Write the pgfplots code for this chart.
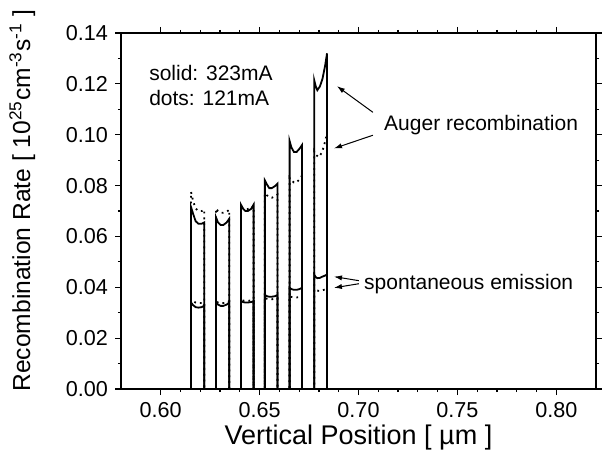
\documentclass[border=0pt]{standalone}
\usepackage{fontspec}
\setmainfont{Liberation Sans}
\usepackage{pgfplots}
\pgfplotsset{compat=1.18}
\usetikzlibrary{arrows.meta,calc}

\begin{document}
\begin{tikzpicture}
\begin{axis}[
  scale only axis, width=237.5pt, height=178pt,
  xmin=0.58, xmax=0.82, ymin=0, ymax=0.14,
  xtick={0.60,0.65,...,0.801}, minor x tick num=4,
  ytick={0,0.02,...,0.141}, minor y tick num=1,
  tick align=outside,
  major tick length=3pt, minor tick length=1.6pt,
  every tick/.style={black, line width=0.6pt},
  axis line style={line width=0.7pt},
  /pgf/number format/.cd, fixed, fixed zerofill, precision=2, assume math mode=true,
  /pgfplots/.cd,
  tick label style={font=\fontsize{10.8}{12}\selectfont},
  xlabel={Vertical Position [ µm ]},
  ylabel={Recombination Rate [ 10\textsuperscript{25}cm\textsuperscript{-3}s\textsuperscript{-1} ]},
  xlabel style={font=\fontsize{13.5}{15}\selectfont, at={(axis description cs:0.5,-0.135)}, anchor=center},
  ylabel style={font=\fontsize{12.3}{14}\selectfont, at={(axis description cs:-0.208,0.53)}, anchor=center},
  clip=false,
]
% Auger, 323 mA (solid)
\addplot[black, line width=0.9pt] coordinates {
 (0.6154,0) (0.6154,0.0715) (0.6164,0.0690) (0.6177,0.0660) (0.6191,0.0650) (0.6208,0.0650) (0.6221,0.0655) (0.6221,0)
 (0.6280,0) (0.6280,0.0675) (0.6290,0.0655) (0.6303,0.0645) (0.6317,0.0645) (0.6334,0.0655) (0.6347,0.0670) (0.6347,0)
 (0.6406,0) (0.6406,0.0725) (0.6416,0.0710) (0.6428,0.0700) (0.6441,0.0700) (0.6457,0.0708) (0.6470,0.0725) (0.6470,0)
 (0.6527,0) (0.6527,0.0820) (0.6537,0.0805) (0.6549,0.0790) (0.6562,0.0790) (0.6578,0.0798) (0.6591,0.0808) (0.6591,0)
 (0.6652,0) (0.6652,0.0975) (0.6661,0.0950) (0.6674,0.0932) (0.6687,0.0932) (0.6702,0.0945) (0.6715,0.0960) (0.6715,0)
 (0.6776,0) (0.6776,0.1215) (0.6784,0.1190) (0.6792,0.1175) (0.6805,0.1190) (0.6818,0.1220) (0.6831,0.1270) (0.6841,0.1320) (0.6841,0)
};
% spontaneous, 323 mA (solid)
\addplot[black, line width=0.9pt] coordinates {
 (0.6154,0) (0.6154,0.0340) (0.6164,0.0330) (0.6177,0.0322) (0.6191,0.0320) (0.6208,0.0322) (0.6221,0.0328) (0.6221,0)
 (0.6280,0) (0.6280,0.0340) (0.6290,0.0332) (0.6303,0.0327) (0.6317,0.0327) (0.6334,0.0332) (0.6347,0.0340) (0.6347,0)
 (0.6406,0) (0.6406,0.0345) (0.6416,0.0342) (0.6428,0.0340) (0.6441,0.0340) (0.6457,0.0342) (0.6470,0.0345) (0.6470,0)
 (0.6527,0) (0.6527,0.0370) (0.6537,0.0365) (0.6549,0.0363) (0.6562,0.0363) (0.6578,0.0365) (0.6591,0.0370) (0.6591,0)
 (0.6652,0) (0.6652,0.0398) (0.6661,0.0393) (0.6674,0.0390) (0.6687,0.0390) (0.6702,0.0393) (0.6715,0.0398) (0.6715,0)
 (0.6776,0) (0.6776,0.0450) (0.6784,0.0440) (0.6792,0.0436) (0.6805,0.0437) (0.6818,0.0442) (0.6831,0.0446) (0.6841,0.0450) (0.6841,0)
};
% Auger, 121 mA (dots)
\addplot[black, line width=0.9pt, dotted] coordinates {
 (0.6154,0) (0.6154,0.0775) (0.6164,0.0740) (0.6177,0.0710) (0.6191,0.0700) (0.6208,0.0700) (0.6221,0.0705) (0.6221,0)
 (0.6280,0) (0.6280,0.0710) (0.6290,0.0700) (0.6303,0.0693) (0.6317,0.0693) (0.6334,0.0697) (0.6347,0.0705) (0.6347,0)
 (0.6406,0) (0.6406,0.0718) (0.6416,0.0712) (0.6428,0.0708) (0.6441,0.0708) (0.6457,0.0712) (0.6470,0.0720) (0.6470,0)
 (0.6527,0) (0.6527,0.0770) (0.6537,0.0762) (0.6549,0.0755) (0.6562,0.0752) (0.6578,0.0758) (0.6591,0.0765) (0.6591,0)
 (0.6652,0) (0.6652,0.0830) (0.6661,0.0820) (0.6674,0.0812) (0.6687,0.0812) (0.6702,0.0825) (0.6715,0.0840) (0.6715,0)
 (0.6776,0) (0.6776,0.0935) (0.6786,0.0920) (0.6799,0.0912) (0.6815,0.0930) (0.6825,0.0955) (0.6835,0.0985) (0.6841,0.1010) (0.6841,0)
};
% spontaneous, 121 mA (dots)
\addplot[black, line width=0.9pt, dotted] coordinates {
 (0.6154,0) (0.6154,0.0350) (0.6164,0.0345) (0.6177,0.0340) (0.6191,0.0338) (0.6208,0.0338) (0.6221,0.0340) (0.6221,0)
 (0.6280,0) (0.6280,0.0345) (0.6290,0.0340) (0.6303,0.0338) (0.6317,0.0338) (0.6334,0.0340) (0.6347,0.0345) (0.6347,0)
 (0.6406,0) (0.6406,0.0350) (0.6416,0.0348) (0.6428,0.0347) (0.6441,0.0347) (0.6457,0.0348) (0.6470,0.0350) (0.6470,0)
 (0.6527,0) (0.6527,0.0357) (0.6537,0.0355) (0.6549,0.0353) (0.6562,0.0353) (0.6578,0.0355) (0.6591,0.0357) (0.6591,0)
 (0.6652,0) (0.6652,0.0365) (0.6661,0.0362) (0.6674,0.0360) (0.6687,0.0360) (0.6702,0.0362) (0.6715,0.0367) (0.6715,0)
 (0.6776,0) (0.6776,0.0392) (0.6786,0.0388) (0.6799,0.0386) (0.6815,0.0387) (0.6825,0.0390) (0.6835,0.0393) (0.6841,0.0395) (0.6841,0)
};
\node[anchor=west, font=\fontsize{10.5}{12}\selectfont, inner sep=0pt] at (axis cs:0.5941,0.1242) {solid: 323mA};
\node[anchor=west, font=\fontsize{10.5}{12}\selectfont, inner sep=0pt] at (axis cs:0.5941,0.1144) {dots: 121mA};
\node[anchor=west, font=\fontsize{10.5}{12}\selectfont, inner sep=0pt] at (axis cs:0.7128,0.1037) {Auger recombination};
\node[anchor=west, font=\fontsize{10.5}{12}\selectfont, inner sep=0pt] at (axis cs:0.7027,0.0414) {spontaneous emission};
\draw[-{Latex[length=4pt,width=2.6pt]}, line width=0.5pt] (axis cs:0.7073,0.1088) -- (axis cs:0.6891,0.1191);
\draw[-{Latex[length=4pt,width=2.6pt]}, line width=0.5pt] (axis cs:0.7073,0.0998) -- (axis cs:0.6876,0.0946);
\draw[-{Latex[length=4pt,width=2.6pt]}, line width=0.5pt] (axis cs:0.7002,0.0426) -- (axis cs:0.6876,0.0442);
\draw[-{Latex[length=4pt,width=2.6pt]}, line width=0.5pt] (axis cs:0.7002,0.0414) -- (axis cs:0.6876,0.0398);
\end{axis}
\pgfresetboundingbox
\path ($(current axis.south west)+(-60.5pt,-38.5pt)$) rectangle ($(current axis.north east)+(3pt,16.5pt)$);
\end{tikzpicture}
\end{document}
